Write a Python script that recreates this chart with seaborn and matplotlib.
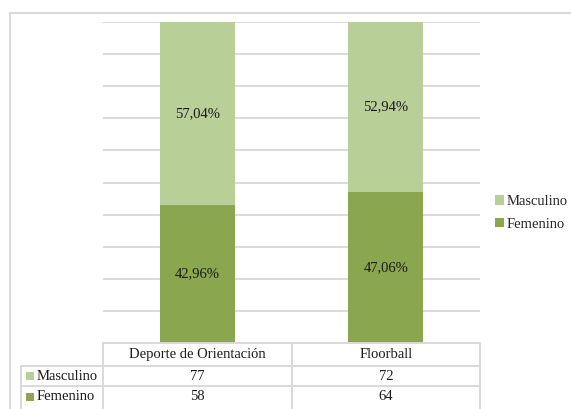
import numpy as np
import pandas as pd
import matplotlib
matplotlib.use("Agg")
import matplotlib.pyplot as plt
import seaborn as sns
from matplotlib.lines import Line2D
from matplotlib.patches import Patch, Rectangle

categories = ["Deporte de Orientación", "Floorball"]
series = ["Masculino", "Femenino"]
masculino = [77, 72]
femenino = [58, 64]
colors = {"Masculino": "#B9CF98", "Femenino": "#8AA64E"}

tot = np.array(masculino) + np.array(femenino)
fem_share = np.array(femenino) / tot
mas_share = np.array(masculino) / tot

sns.set_theme(style="white")
plt.rcParams["font.family"] = ["Liberation Serif", "DejaVu Serif"]
FS = 10.5
GRID = "#D9D9D9"
TXT = "#1a1a1a"

W, H = 571, 409
fig = plt.figure(figsize=(W / 100, H / 100), dpi=100)

def fx(px):
    return px / W

def fy(py):
    return 1 - py / H

ax_l, ax_r, ax_t, ax_b = 103, 480, 22, 343
ax = fig.add_axes([fx(ax_l), fy(ax_b), fx(ax_r - ax_l), (ax_b - ax_t) / H])

df_tot = pd.DataFrame({"cat": categories, "v": np.ones(len(categories))})
df_fem = pd.DataFrame({"cat": categories, "v": fem_share})
sns.barplot(data=df_tot, x="cat", y="v", color=colors["Masculino"], width=0.4,
            linewidth=0, saturation=1, ax=ax, zorder=2)
sns.barplot(data=df_fem, x="cat", y="v", color=colors["Femenino"], width=0.4,
            linewidth=0, saturation=1, ax=ax, zorder=3)

ax.set_xlim(-0.5, len(categories) - 0.5)
ax.set_ylim(0, 1)
ax.set_yticks(np.arange(0, 1.001, 0.1))
ax.yaxis.grid(True, color=GRID, lw=1.4)
ax.set_axisbelow(True)
ax.tick_params(length=0, labelleft=False, labelbottom=False)
ax.set_xlabel("")
ax.set_ylabel("")
for s in ax.spines.values():
    s.set_visible(False)

def fmt(v):
    return f"{v * 100:.2f}%".replace(".", ",")

for i in range(len(categories)):
    ax.text(i, fem_share[i] / 2, fmt(fem_share[i]), ha="center", va="center",
            fontsize=FS, color=TXT, zorder=5)
    ax.text(i, fem_share[i] + mas_share[i] / 2, fmt(mas_share[i]), ha="center",
            va="center", fontsize=FS, color=TXT, zorder=5)

# outer frame
fig.add_artist(Line2D([fx(10), fx(W + 5)], [fy(13), fy(13)], color=GRID, lw=1.4))
fig.add_artist(Line2D([fx(10), fx(10)], [fy(13), fy(H + 5)], color=GRID, lw=1.4))

# data table
col_edges = [103, 291.5, 480]
row_label_left = 21
rows_y = [343, 366, 386, 407]
for j, y in enumerate(rows_y[:-1]):
    x0 = col_edges[0] if j == 0 else row_label_left
    fig.add_artist(Line2D([fx(x0), fx(col_edges[-1])], [fy(y), fy(y)], color=GRID, lw=1.4))
for x in col_edges:
    fig.add_artist(Line2D([fx(x), fx(x)], [fy(rows_y[0]), fy(H + 5)], color=GRID, lw=1.4))
fig.add_artist(Line2D([fx(row_label_left), fx(row_label_left)], [fy(rows_y[1]), fy(H + 5)],
                      color=GRID, lw=1.4))

for i, c in enumerate(categories):
    cx = (col_edges[i] + col_edges[i + 1]) / 2
    fig.text(fx(cx), fy((rows_y[0] + rows_y[1]) / 2), c, ha="center", va="center",
             fontsize=FS, color=TXT)

table_vals = {"Masculino": masculino, "Femenino": femenino}
for r, name in enumerate(series):
    yc = (rows_y[r + 1] + rows_y[r + 2]) / 2
    fig.add_artist(Rectangle((fx(26), fy(yc + 4)), fx(8), 8 / H,
                             color=colors[name], lw=0))
    fig.text(fx(37), fy(yc), name, ha="left", va="center", fontsize=FS, color=TXT)
    for i in range(len(categories)):
        cx = (col_edges[i] + col_edges[i + 1]) / 2
        fig.text(fx(cx), fy(yc), str(table_vals[name][i]), ha="center", va="center",
                 fontsize=FS, color=TXT)

# legend
handles = [Patch(facecolor=colors[n], edgecolor="none", label=n) for n in series]
fig.legend(handles=handles, loc="center left", bbox_to_anchor=(fx(495), fy(213)),
           frameon=False, fontsize=FS, handlelength=0.6, handleheight=0.6,
           handletextpad=0.2, labelspacing=0.65, borderpad=0, borderaxespad=0)

fig.savefig("out.png", dpi=100)
